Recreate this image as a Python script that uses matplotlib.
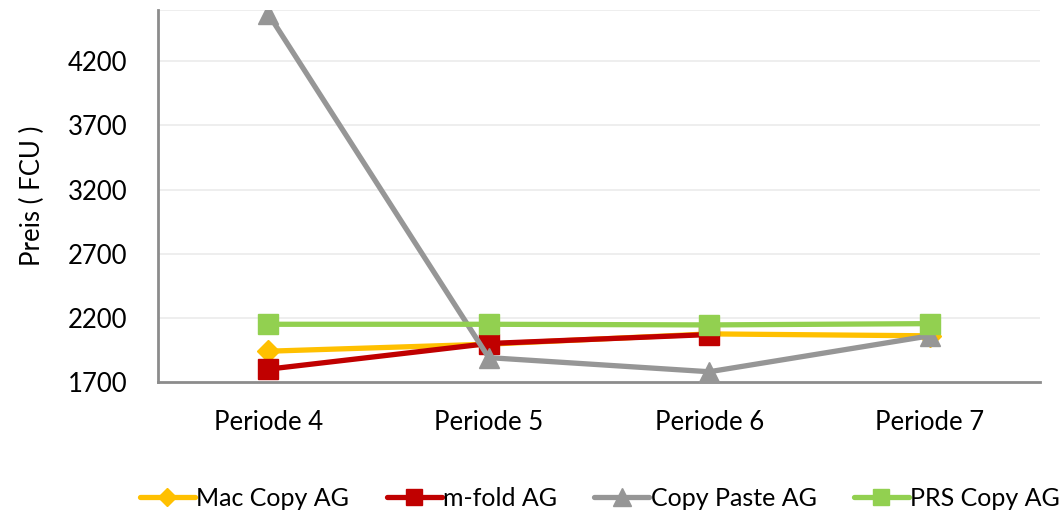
import matplotlib
matplotlib.use("Agg")
import matplotlib.pyplot as plt
import numpy as np

categories = ["Periode 4", "Periode 5", "Periode 6", "Periode 7"]
mac_copy = [1940, 1995, 2075, 2060]
m_fold = [1800, 2000, 2070, np.nan]
copy_paste = [4570, 1890, 1780, 2060]
prs_copy = [2150, 2150, 2145, 2155]
yticks = [1700, 2200, 2700, 3200, 3700, 4200]

plt.rcParams['font.family'] = ['Lato', 'DejaVu Sans']

fig = plt.figure(figsize=(10.61, 5.16), dpi=100)
ax = fig.add_axes([158/1061, 1 - 382/516, (1040-158)/1061, (382-10)/516])

x = list(range(len(categories)))
series = [
    ("Mac Copy AG", mac_copy, "#FFC000", "D", 11),
    ("m-fold AG", m_fold, "#C00000", "s", 14),
    ("Copy Paste AG", copy_paste, "#969696", "^", 15),
    ("PRS Copy AG", prs_copy, "#92D050", "s", 14),
]
for name, vals, col, mk, ms in series:
    ax.plot(x, vals, color=col, lw=3.8, marker=mk, ms=ms, mec=col, mfc=col,
            label=name, solid_capstyle="round", zorder=3)

ax.set_xlim(-0.5, 3.5)
ax.set_ylim(1700, 4600)
ax.set_yticks(yticks)
ax.set_xticks(x)
ax.set_xticklabels(categories)
for yv in yticks[1:] + [4600]:
    ax.axhline(yv, color="#EDEDED", lw=1.3, zorder=0)
ax.tick_params(axis="both", length=0, labelsize=18.5, colors="black")
ax.tick_params(axis="x", pad=20)
ax.tick_params(axis="y", pad=22)
for s in ["top", "right"]:
    ax.spines[s].set_visible(False)
for s in ["left", "bottom"]:
    ax.spines[s].set_color("#8C8C8C")
    ax.spines[s].set_linewidth(2)
ax.set_ylabel("Preis ( FCU )", fontsize=18.5)
ax.yaxis.set_label_coords(-0.128, 0.5)

leg = fig.legend(loc="center", bbox_to_anchor=(0.5655, 1 - 498/516), ncol=4,
                 frameon=False, fontsize=18, handlelength=2.2, columnspacing=1.5,
                 handletextpad=0.05, markerscale=0.85)
fig.savefig("out.png", dpi=100)
